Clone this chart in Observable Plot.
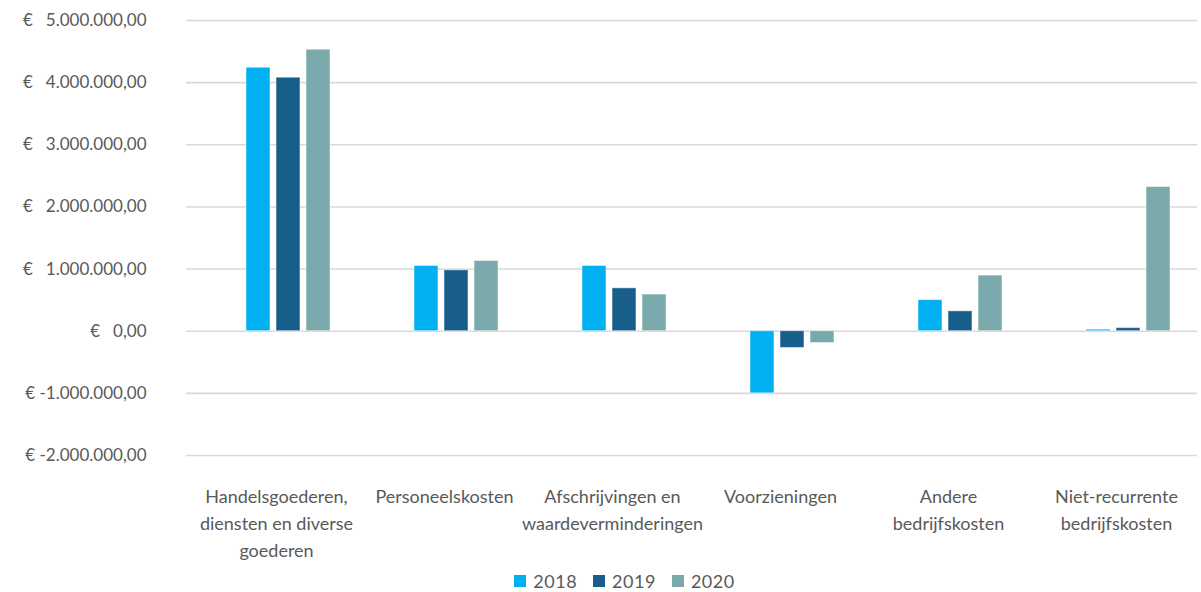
<!DOCTYPE html>
<html>
<head>
<meta charset="utf-8">
<script src="https://cdn.jsdelivr.net/npm/d3@7"></script>
<script src="https://cdn.jsdelivr.net/npm/@observablehq/plot@0.6"></script>
<style>
  html, body { margin: 0; padding: 0; background: #fff; }
  body { width: 1201px; height: 592px; overflow: hidden; font-family: Lato, "Open Sans", sans-serif; }
  #legend { display: flex; justify-content: center; align-items: center; height: 27px; color: #595959; font-size: 18px; letter-spacing: 0.5px; padding-left: 48px; }
  .item { display: flex; align-items: center; margin: 0 8px; }
  .sw { width: 12px; height: 12px; margin-right: 7px; }
</style>
</head>
<body>
<div id="chart"></div>
<div id="legend"></div>
<script>
const categories = [
  "Handelsgoederen, diensten en diverse goederen",
  "Personeelskosten",
  "Afschrijvingen en waardeverminderingen",
  "Voorzieningen",
  "Andere bedrijfskosten",
  "Niet-recurrente bedrijfskosten"
];
const categoryLabels = [
  "Handelsgoederen,\ndiensten en diverse\ngoederen",
  "Personeelskosten",
  "Afschrijvingen en\nwaardeverminderingen",
  "Voorzieningen",
  "Andere\nbedrijfskosten",
  "Niet-recurrente\nbedrijfskosten"
];
const years = ["2018", "2019", "2020"];
const values2018 = [4240000, 1050000, 1050000, -1000000, 500000, 25000];
const values2019 = [4080000, 980000, 690000, -270000, 320000, 50000];
const values2020 = [4530000, 1130000, 590000, -190000, 895000, 2320000];
const yTicks = [-2000000, -1000000, 0, 1000000, 2000000, 3000000, 4000000, 5000000];
const colors = ["#00B0F0", "#175E8A", "#7AA9AB"];

const series = [values2018, values2019, values2020];
const locale = d3.formatLocale({decimal: ",", thousands: ".", grouping: [3], currency: ["€ ", ""], minus: "-"});
const num = locale.format(",.2f");
const fmt = d => "€" + (d < 0 ? "\u00a0" : "\u00a0\u00a0\u00a0") + num(d);

const bandHalf = 84, barHalf = 12, barStep = 30;
const barMarks = series.map((vals, i) => Plot.barY(
  categories.map((c, j) => ({category: c, year: years[i], value: vals[j]})),
  {
    x: "category", y: "value", fill: colors[i],
    stroke: "#ffffff", strokeOpacity: 0.5, strokeWidth: 1,
    insetLeft: bandHalf - barHalf + (i - 1) * barStep,
    insetRight: bandHalf - barHalf - (i - 1) * barStep
  }
));

const chart = Plot.plot({
  width: 1201,
  height: 567,
  marginTop: 20,
  marginBottom: 112,
  marginLeft: 186,
  marginRight: 4,
  style: {fontFamily: "Lato, 'Open Sans', sans-serif", color: "#595959", background: "#fff"},
  x: {domain: categories, range: [204, 1212], padding: 0, axis: null},
  y: {domain: [-2000000, 5000000], axis: null},
  marks: [
    Plot.gridY(yTicks, {stroke: "#d9d9d9", strokeOpacity: 1, strokeWidth: 1.6}),
    ...barMarks,
    Plot.axisY(yTicks, {tickSize: 0, tickPadding: 40, tickFormat: fmt, fontSize: 17, fill: "#595959", label: null, style: {letterSpacing: "1px"}}),
    Plot.text(categories, {
      x: d => d, text: (d, i) => categoryLabels[i],
      frameAnchor: "bottom", lineAnchor: "top", dy: 29, dx: -12,
      fontSize: 18, fill: "#595959", lineHeight: 1.48,
      style: {letterSpacing: "0.4px"}
    })
  ]
});
document.getElementById("chart").appendChild(chart);

const legend = document.getElementById("legend");
years.forEach((y, i) => {
  const it = document.createElement("div");
  it.className = "item";
  it.innerHTML = `<div class="sw" style="background:${colors[i]}"></div><span>${y}</span>`;
  legend.appendChild(it);
});
</script>
</body>
</html>
